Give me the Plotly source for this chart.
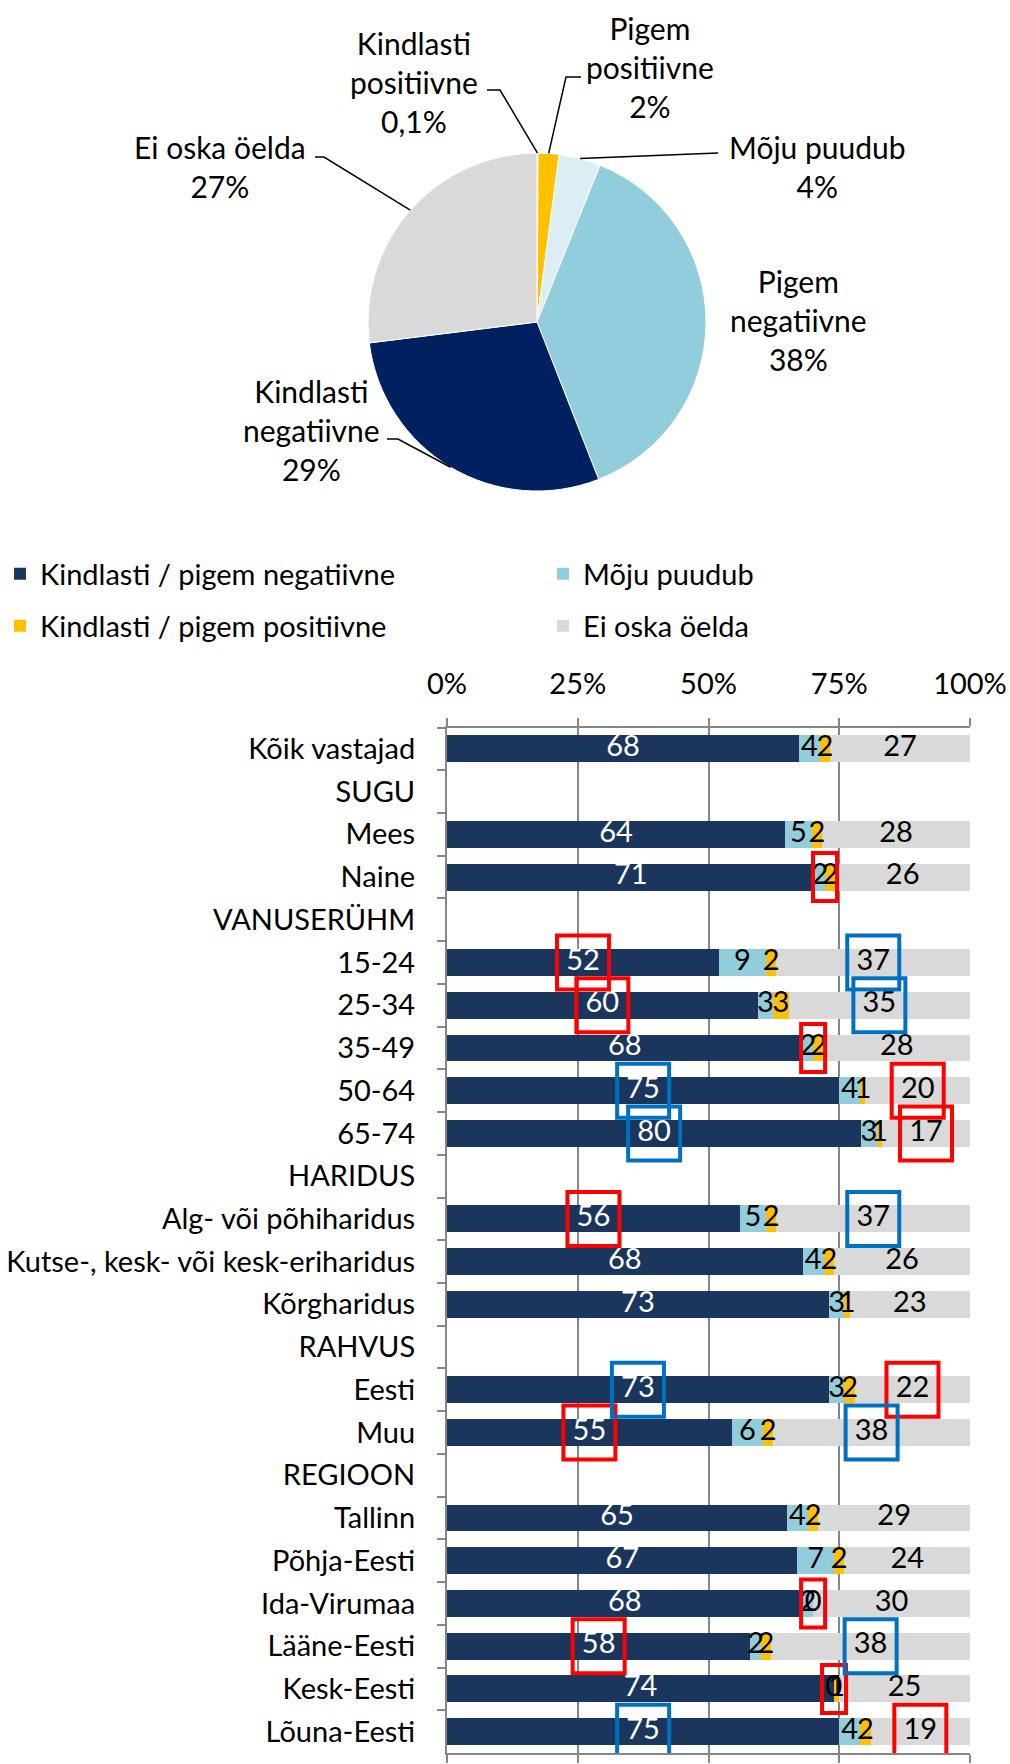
import math
import plotly.graph_objects as go

# ---------------- data ----------------
pie_labels = ["Kindlasti positiivne", "Pigem positiivne", "Mõju puudub",
              "Pigem negatiivne", "Kindlasti negatiivne", "Ei oska öelda"]
pie_values = [0.1, 2, 4, 38, 29, 27]
pie_text = ["0,1%", "2%", "4%", "38%", "29%", "27%"]

categories = ["Kõik vastajad", "SUGU", "Mees", "Naine", "VANUSERÜHM", "15-24", "25-34",
              "35-49", "50-64", "65-74", "HARIDUS", "Alg- või põhiharidus",
              "Kutse-, kesk- või kesk-eriharidus", "Kõrgharidus", "RAHVUS", "Eesti", "Muu",
              "REGIOON", "Tallinn", "Põhja-Eesti", "Ida-Virumaa", "Lääne-Eesti",
              "Kesk-Eesti", "Lõuna-Eesti"]
negative = [68, None, 64, 71, None, 52, 60, 68, 75, 80, None, 56, 68, 73, None, 73, 55,
            None, 65, 67, 68, 58, 74, 75]
no_effect = [4, None, 5, 2, None, 9, 3, 2, 4, 3, None, 5, 4, 3, None, 3, 6,
             None, 4, 7, 2, 2, 0, 4]
positive = [2, None, 2, 2, None, 2, 3, 2, 1, 1, None, 2, 2, 1, None, 2, 2,
            None, 2, 2, 0, 2, 1, 2]
dont_know = [27, None, 28, 26, None, 37, 35, 28, 20, 17, None, 37, 26, 23, None, 22, 38,
             None, 29, 24, 30, 38, 25, 19]
series_names = ["Kindlasti / pigem negatiivne", "Mõju puudub",
                "Kindlasti / pigem positiivne", "Ei oska öelda"]
x_ticks = [0, 25, 50, 75, 100]
x_tick_labels = ["0%", "25%", "50%", "75%", "100%"]

red_boxes = [("Naine", "small"), ("15-24", "neg"), ("25-34", "neg"), ("35-49", "small"),
             ("50-64", "eos"), ("65-74", "eos"), ("Alg- või põhiharidus", "neg"),
             ("Eesti", "eos"), ("Muu", "neg"), ("Ida-Virumaa", "small"),
             ("Lääne-Eesti", "neg"), ("Kesk-Eesti", "small"), ("Lõuna-Eesti", "eos")]
blue_boxes = [("15-24", "eos"), ("25-34", "eos"), ("50-64", "neg"), ("65-74", "neg"),
              ("Alg- või põhiharidus", "eos"), ("Eesti", "neg"), ("Muu", "eos"),
              ("Lääne-Eesti", "eos"), ("Lõuna-Eesti", "neg")]

# ---------------- style ----------------
W, H = 1010, 1764
FONT = "Lato, 'Liberation Sans', Arial, sans-serif"
FS = 29
NAVY = "#1B365D"
LBLUE = "#92CDDC"
YELLOW = "#FFC000"
GREY = "#D9D9D9"
AXC = "#868686"
pie_colors = ["#F79646", YELLOW, "#DAEEF3", LBLUE, "#002060", GREY]


def px(x):
    return x / W


def py(y):
    return 1 - y / H


fig = go.Figure()

# ---------------- pie ----------------
cx, cy, r = 537, 322, 169
fig.add_trace(go.Pie(
    labels=pie_labels, values=pie_values, sort=False, direction="clockwise",
    rotation=0, textinfo="none", hoverinfo="label+value", showlegend=False,
    marker=dict(colors=pie_colors, line=dict(color="white", width=1)),
    domain=dict(x=[px(cx - r), px(cx + r)], y=[py(cy + r), py(cy - r)]),
))

# pie labels (positions) and leader lines (start, elbow) in pixels
pie_label_pos = [(414, 82), (650, 67), (817, 166), (798, 320), (311, 430), (220, 166)]
pie_leader = [[(487, 90), (500, 90)], [(581, 77), (566, 77)], [(718, 153)], None,
              [(387, 439), (398, 439)], [(315, 157), (324, 157)]]
pie_label_text = ["Kindlasti<br>positiivne", "Pigem<br>positiivne", "Mõju puudub",
                  "Pigem<br>negatiivne", "Kindlasti<br>negatiivne", "Ei oska öelda"]
total = sum(pie_values)
cum = 0
for i, v in enumerate(pie_values):
    mid = (cum + v / 2) / total * 2 * math.pi
    cum += v
    ex, ey = cx + r * math.sin(mid), cy - r * math.cos(mid)
    lx, ly = pie_label_pos[i]
    fig.add_annotation(x=px(lx), y=py(ly), xref="paper", yref="paper",
                       text=pie_label_text[i] + "<br>" + pie_text[i], showarrow=False,
                       font=dict(family=FONT, size=30, color="black"),
                       xanchor="center", yanchor="middle", align="center")
    if pie_leader[i]:
        pts = pie_leader[i] + [(ex, ey)]
        path = "M " + " L ".join(f"{px(a):.5f},{py(b):.5f}" for a, b in pts)
        fig.add_shape(type="path", path=path, xref="paper", yref="paper",
                      line=dict(color="black", width=1.5))

# ---------------- bars ----------------
series = [negative, no_effect, positive, dont_know]
colors = [NAVY, LBLUE, YELLOW, GREY]
legend_ids = ["legend", "legend2", "legend3", "legend4"]
for s, name, col, lg in zip(series, series_names, colors, legend_ids):
    fig.add_trace(go.Bar(
        y=categories, x=s, name=name, orientation="h",
        marker=dict(color=col, line=dict(width=0)),
        legend=lg, hoverinfo="x+y+name",
    ))

# labels for bar segments (positions from normalised data)
lab_x, lab_y, lab_t, lab_c = [], [], [], []
centers = {}
for i, c in enumerate(categories):
    if negative[i] is None:
        continue
    vals = [negative[i], no_effect[i], positive[i], dont_know[i]]
    tot = sum(vals)
    run = 0
    mids = []
    for j, v in enumerate(vals):
        m = (run + v / 2) / tot * 100
        mids.append(m)
        lab_x.append(m)
        lab_y.append(c)
        lab_t.append(str(v))
        lab_c.append("white" if j == 0 else "black")
        run += v
    centers[c] = {"neg": mids[0], "eos": mids[3],
                  "small": (vals[0] + vals[1]) / tot * 100}

fig.add_trace(go.Scatter(
    x=lab_x, y=lab_y, text=lab_t, mode="text", showlegend=False, hoverinfo="skip",
    textfont=dict(family=FONT, size=FS, color=lab_c), cliponaxis=False,
))

for boxes, col in ((red_boxes, "#FF0000"), (blue_boxes, "#0070C0")):
    for cat, seg in boxes:
        hw, hh = (12, 24) if seg == "small" else (26, 27)
        fig.add_shape(type="rect", xref="x", yref="y",
                      xsizemode="pixel", ysizemode="pixel",
                      xanchor=centers[cat][seg], yanchor=categories.index(cat),
                      x0=-hw, x1=hw, y0=-hh, y1=hh,
                      line=dict(color=col, width=4), layer="above")

legend_common = dict(orientation="h", font=dict(family=FONT, size=FS, color="black"),
                     bgcolor="rgba(0,0,0,0)", xanchor="left", yanchor="middle",
                     borderwidth=0)
n = len(categories)
fig.update_layout(
    width=W, height=H, margin=dict(l=0, r=0, t=0, b=0, pad=0, autoexpand=False),
    paper_bgcolor="white", plot_bgcolor="white",
    barmode="stack", barnorm="percent", bargap=0.37,
    font=dict(family=FONT, size=FS, color="black"),
    legend=dict(x=px(0), y=py(574), **legend_common),
    legend2=dict(x=px(543), y=py(574), **legend_common),
    legend3=dict(x=px(0), y=py(626), **legend_common),
    legend4=dict(x=px(543), y=py(626), **legend_common),
    xaxis=dict(domain=[px(447), px(970)], range=[0, 100], side="top",
               tickmode="array", tickvals=x_ticks, ticktext=x_tick_labels,
               ticks="outside", ticklen=8,
               tickcolor=AXC, tickwidth=2, showline=True, linecolor=AXC, linewidth=2,
               mirror="ticks", showgrid=True, gridcolor=AXC, gridwidth=1.5,
               zeroline=False, ticklabelstandoff=12,
               tickfont=dict(family=FONT, size=FS, color="black")),
    yaxis=dict(domain=[py(1753), py(727.5)], categoryorder="array",
               categoryarray=categories, range=[n - 0.5, -0.5], type="category",
               ticks="outside", tickson="boundaries", ticklen=8, tickcolor=AXC,
               tickwidth=2, showline=True, linecolor=AXC, linewidth=2, showgrid=False,
               zeroline=False, ticklabelstandoff=24,
               tickfont=dict(family=FONT, size=FS, color="black")),
)

fig.write_html("out.html", config={"displayModeBar": False},
               post_script="document.body.style.margin='0';")
